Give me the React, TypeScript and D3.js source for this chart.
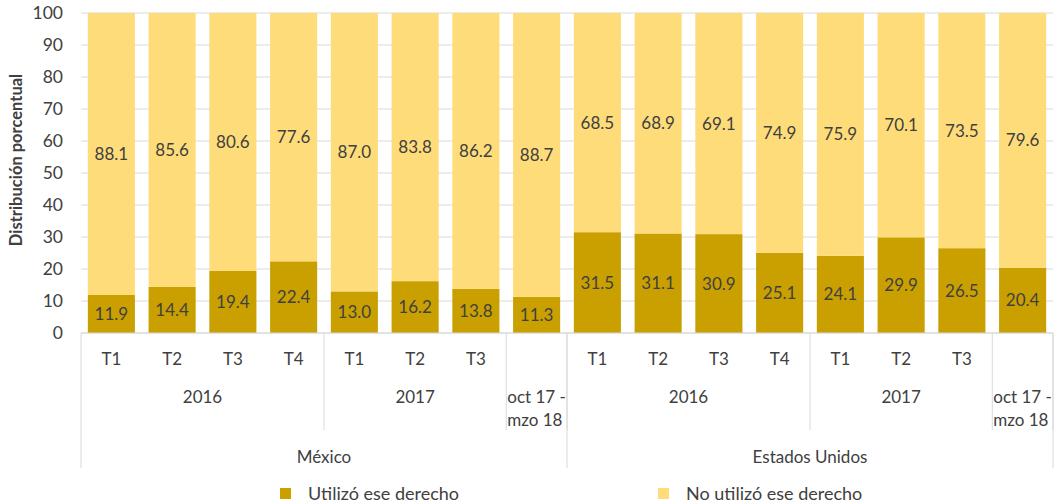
import React from "react";
import * as d3 from "d3";

const countries = ["México", "Estados Unidos"];
const yearLabels = [["2016"], ["2017"], ["oct 17 -", "mzo 18"]];
const yearSizes = [4, 3, 1];
const quarterLabels = ["T1", "T2", "T3", "T4", "T1", "T2", "T3", "", "T1", "T2", "T3", "T4", "T1", "T2", "T3", ""];
const utilizo = [11.9, 14.4, 19.4, 22.4, 13.0, 16.2, 13.8, 11.3, 31.5, 31.1, 30.9, 25.1, 24.1, 29.9, 26.5, 20.4];
const noUtilizo = [88.1, 85.6, 80.6, 77.6, 87.0, 83.8, 86.2, 88.7, 68.5, 68.9, 69.1, 74.9, 75.9, 70.1, 73.5, 79.6];
const seriesNames = ["Utilizó ese derecho", "No utilizó ese derecho"];
const yTicks = [0, 10, 20, 30, 40, 50, 60, 70, 80, 90, 100];

const W = 1059, H = 504;
const left = 81, right = 1053, top = 13, bottom = 333;
const colors = ["#C9A000", "#FFDC7A"];
const textColor = "#404040";
const gridColor = "#D9D9D9";
const font = "Lato, 'Open Sans', sans-serif";
const fs = 17;

export default function App() {
  const idx = utilizo.map((_, i) => i);
  const x = d3.scaleBand<number>().domain(idx).range([left, right]).paddingInner(0.225).paddingOuter(0.1125);
  const y = d3.scaleLinear().domain([0, 100]).range([bottom, top]);
  const rows = idx.map(i => ({ i, u: utilizo[i], n: noUtilizo[i] }));
  const stacked = d3.stack<any>().keys(["u", "n"])(rows);
  const step = x.step();
  const edge = (k: number) => left + k * step;

  const yearGroups: { start: number; n: number; label: string[] }[] = [];
  const countryGroups: { start: number; n: number; label: string }[] = [];
  let pos = 0;
  countries.forEach(c => {
    const cStart = pos;
    yearSizes.forEach((n, j) => {
      yearGroups.push({ start: pos, n, label: yearLabels[j] });
      pos += n;
    });
    countryGroups.push({ start: cStart, n: pos - cStart, label: c });
  });

  const yearLineBottom = 430;
  const countryLineBottom = 468;

  return (
    <svg width={W} height={H} style={{ position: "absolute", left: 0, top: 0, fontFamily: font }}>
      <rect x={0} y={0} width={W} height={H} fill="#fff" />
      {yTicks.map(t => (
        <g key={t}>
          <line x1={left} x2={right} y1={y(t)} y2={y(t)} stroke={gridColor} strokeWidth={1} />
          <text x={63} y={y(t)} dy="0.35em" textAnchor="end" fontSize={fs + 0.5} fill={textColor}>{t}</text>
        </g>
      ))}
      <text transform={`translate(22,160) rotate(-90)`} textAnchor="middle" fontSize={16.5} fontWeight="bold" fill={textColor}>
        Distribución porcentual
      </text>
      {stacked.map((s, si) => (
        <g key={si}>
          {s.map((d, i) => (
            <g key={i}>
              <rect x={x(i)} y={y(d[1])} width={x.bandwidth()} height={y(d[0]) - y(d[1])} fill={colors[si]} />
              <text x={(x(i) as number) + x.bandwidth() / 2} y={(y(d[0]) + y(d[1])) / 2} dy="0.35em" textAnchor="middle" fontSize={fs} fill={textColor}>
                {(si === 0 ? utilizo[i] : noUtilizo[i]).toFixed(1)}
              </text>
            </g>
          ))}
        </g>
      ))}
      <line x1={left} x2={right} y1={bottom} y2={bottom} stroke={gridColor} />
      {quarterLabels.map((q, i) => (
        <text key={i} x={(x(i) as number) + x.bandwidth() / 2} y={359} dy="0.35em" textAnchor="middle" fontSize={fs} fill={textColor}>{q}</text>
      ))}
      {yearGroups.map((g, k) => (
        <g key={k}>
          <line x1={edge(g.start + g.n)} x2={edge(g.start + g.n)} y1={bottom} y2={yearLineBottom} stroke={gridColor} />
          {g.label.length === 1 ? (
            <text x={(edge(g.start) + edge(g.start + g.n)) / 2} y={397} dy="0.35em" textAnchor="middle" fontSize={fs} fill={textColor}>{g.label[0]}</text>
          ) : (
            g.label.map((l, li) => (
              <text key={li} x={edge(g.start) + 1} y={397 + li * 23} dy="0.35em" textAnchor="start" fontSize={fs} fill={textColor}>{l}</text>
            ))
          )}
        </g>
      ))}
      <line x1={left} x2={left} y1={bottom} y2={countryLineBottom} stroke={gridColor} />
      {countryGroups.map((g, k) => (
        <g key={k}>
          <line x1={edge(g.start + g.n)} x2={edge(g.start + g.n)} y1={bottom} y2={countryLineBottom} stroke={gridColor} />
          <text x={(edge(g.start) + edge(g.start + g.n)) / 2} y={457} dy="0.35em" textAnchor="middle" fontSize={fs} fill={textColor}>{g.label}</text>
        </g>
      ))}
      {seriesNames.map((nm, k) => {
        const lx = k === 0 ? 280 : 658;
        return (
          <g key={k}>
            <rect x={lx} y={488} width={11} height={11} fill={colors[k]} />
            <text x={lx + 28} y={494} dy="0.35em" fontSize={18} fill={textColor}>{nm}</text>
          </g>
        );
      })}
    </svg>
  );
}
